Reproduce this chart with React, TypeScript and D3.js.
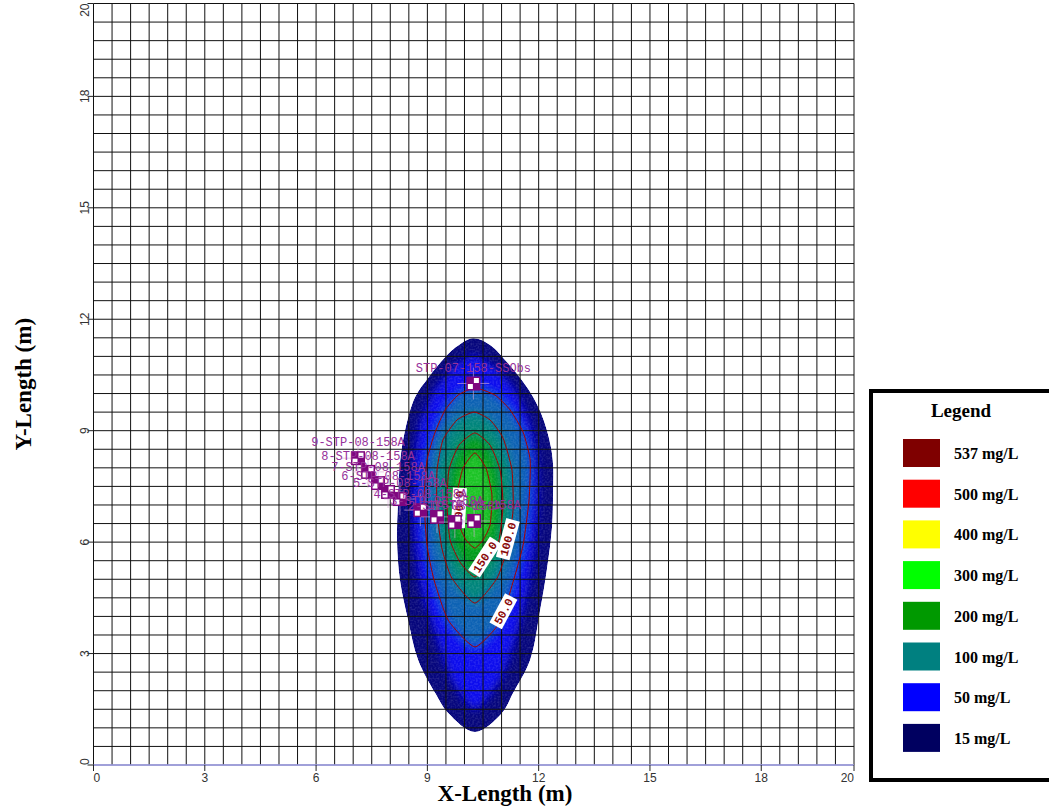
import React from "react";
import * as d3 from "d3";

// Model extent (m) and grid spacing
const AXIS_MAX = 20.5;
const GRID_STEP = 0.5;
const X_TICKS = [0, 3, 6, 9, 12, 15, 18, AXIS_MAX];
const Y_TICKS = [0, 3, 6, 9, 12, 15, 18, AXIS_MAX];

type Pt = [number, number];

// Outer limit of the plume (lowest concentration band), x/y in metres
const plumeEdge: Pt[] = [
  [10.23, 11.49], [10.69, 11.31], [11.17, 10.82], [11.55, 10.36], [11.85, 9.91],
  [12.06, 9.48], [12.22, 9.02], [12.33, 8.56], [12.39, 8.08], [12.39, 7.4],
  [12.36, 6.41], [12.22, 5.25], [12.04, 4.17], [11.77, 2.83], [11.31, 1.94],
  [11.01, 1.4], [10.28, 0.89], [9.56, 1.4], [9.21, 1.94], [8.75, 2.83],
  [8.48, 3.9], [8.26, 4.98], [8.18, 6.06], [8.21, 7.13], [8.26, 8.13],
  [8.4, 9.02], [8.67, 9.91], [9.02, 10.42], [9.34, 10.82], [9.77, 11.25],
];

// Inner blue zone
const blueZone: Pt[] = [
  [10.26, 11.04], [10.96, 10.58], [11.44, 9.96], [11.77, 9.15], [11.95, 8.21],
  [11.98, 7.13], [11.9, 6.06], [11.71, 4.71], [11.36, 3.36], [10.96, 2.29],
  [10.28, 1.48], [9.66, 2.29], [9.28, 3.36], [8.85, 4.71], [8.66, 6.06],
  [8.61, 7.13], [8.66, 8.21], [8.8, 9.15], [9.12, 9.96], [9.61, 10.63],
];

// Iso-concentration contours (mg/L)
const contour50: Pt[] = [
  [10.28, 10.15], [10.82, 9.96], [11.23, 9.56], [11.58, 8.96], [11.77, 8.21],
  [11.74, 7.13], [11.58, 5.92], [11.31, 4.93], [10.96, 3.85], [10.28, 3.18],
  [9.56, 3.9], [9.18, 4.98], [8.99, 5.92], [8.91, 7.13], [8.99, 8.21],
  [9.21, 8.96], [9.48, 9.56], [9.83, 9.96],
];
const contour100: Pt[] = [
  [10.26, 9.5], [10.69, 9.29], [11.04, 8.8], [11.28, 7.94], [11.31, 6.86],
  [11.15, 5.84], [10.88, 5.03], [10.28, 4.36], [9.66, 5.03], [9.39, 5.84],
  [9.26, 6.86], [9.26, 7.94], [9.42, 8.75], [9.8, 9.29],
];
const contour150: Pt[] = [
  [10.28, 8.94], [10.69, 8.61], [10.96, 7.94], [11.04, 7.0], [10.93, 6.06],
  [10.66, 5.46], [10.28, 5.06], [9.88, 5.46], [9.61, 6.06], [9.53, 7.0],
  [9.58, 7.94], [9.85, 8.61],
];
const contour200: Pt[] = [
  [10.28, 8.4], [10.58, 7.99], [10.74, 7.27], [10.69, 6.46], [10.5, 6.06],
  [10.28, 5.84], [10.04, 6.06], [9.86, 6.46], [9.8, 7.27], [9.96, 7.99],
];

const contourLines: Pt[][] = [contour50, contour100, contour150, contour200];

// Colour fills, outermost first
const bandShapes: Pt[][] = [blueZone, contour50, contour100, contour150, contour200];
const bandColors = ["#0808ee", "#0c62b4", "#00857c", "#039a1c", "#1fc426"];
const EDGE_COLOR = "#06067c";

// Contour value labels
const contourLabelText = ["150.0", "100.0", "50.0", "200.0"];
const contourLabelX = [10.55, 11.17, 11.05, 9.85];
const contourLabelY = [5.6, 6.08, 4.14, 6.92];
const contourLabelAngle = [-57, -75, -62, -87];

// Observation wells
const wellNames = [
  "STP-07-158-SSObs",
  "9-STP-08-158A", "8-STP-08-158A", "7-STP-08-158A", "6-STP-08-158A",
  "5-STP-08-158A", "4-STP-08-158A", "3-STP-08-158A", "2-STP-08-158A", "1-STP-08-158A",
];
const wellX = [10.24, 7.13, 7.4, 7.67, 7.94, 8.26, 8.81, 9.26, 9.74, 10.26];
const wellY = [10.27, 8.26, 7.89, 7.59, 7.35, 7.16, 6.86, 6.68, 6.54, 6.57];

// Legend
const legendLabels = ["537 mg/L", "500 mg/L", "400 mg/L", "300 mg/L", "200 mg/L", "100 mg/L", "50 mg/L", "15 mg/L"];
const legendColors = ["#7f0000", "#ff0000", "#ffff00", "#00ff00", "#009900", "#008080", "#0000ff", "#000060"];

const W = 1049;
const H = 809;
const PLOT = { left: 93.5, right: 854, top: 3.5, bottom: 765 };

export default function App() {
  const xs = d3.scaleLinear().domain([0, AXIS_MAX]).range([PLOT.left, PLOT.right]);
  const ys = d3.scaleLinear().domain([0, AXIS_MAX]).range([PLOT.bottom, PLOT.top]);

  const smooth = d3
    .line<Pt>()
    .x((d) => xs(d[0]))
    .y((d) => ys(d[1]))
    .curve(d3.curveCatmullRomClosed.alpha(0.5));

  // contours keep their pointed ends
  const sharp = d3
    .line<Pt>()
    .x((d) => xs(d[0]))
    .y((d) => ys(d[1]))
    .curve(d3.curveCardinalClosed.tension(0.45));

  const gridVals = d3.range(0, AXIS_MAX + 1e-6, GRID_STEP);
  const fmt = (v: number) => String(Math.floor(v));
  const serif = "'Liberation Serif', 'Times New Roman', serif";
  const sans = "'Liberation Sans', Arial, sans-serif";
  const mono = "'Liberation Mono', 'DejaVu Sans Mono', monospace";

  return (
    <svg
      width={W}
      height={H}
      style={{ position: "absolute", left: 0, top: 0, background: "#fff" }}
    >
      <defs>
        <clipPath id="plumeClip">
          <path d={smooth(plumeEdge) || ""} />
        </clipPath>
        <filter id="soft" x="-50%" y="-50%" width="200%" height="200%">
          <feGaussianBlur stdDeviation="4.5" />
        </filter>
        <filter id="grain" x="0" y="0" width="100%" height="100%">
          <feTurbulence type="fractalNoise" baseFrequency="0.55" numOctaves="1" seed="7" result="n" />
          <feColorMatrix
            in="n"
            type="matrix"
            values="0 0 0 0 1  0 0 0 0 1  0 0 0 0 1  0 0 0 0.9 -0.35"
          />
        </filter>
      </defs>

      {/* plume fill */}
      <g clipPath="url(#plumeClip)">
        <path d={smooth(plumeEdge) || ""} fill={EDGE_COLOR} />
        <g filter="url(#soft)">
          {bandShapes.map((s, i) => (
            <path key={i} d={sharp(s) || ""} fill={bandColors[i]} />
          ))}
        </g>
        <rect
          x={xs(8)}
          y={ys(11.6)}
          width={xs(12.6) - xs(8)}
          height={ys(0.7) - ys(11.6)}
          filter="url(#grain)"
          opacity={0.35}
        />
      </g>

      {/* grid */}
      <g stroke="#111" strokeWidth={1}>
        {gridVals.map((v, i) => (
          <line key={"gx" + i} x1={xs(v)} x2={xs(v)} y1={PLOT.top} y2={PLOT.bottom} />
        ))}
        {gridVals.map((v, i) => (
          <line key={"gy" + i} x1={PLOT.left} x2={PLOT.right} y1={ys(v)} y2={ys(v)} />
        ))}
      </g>
      <line x1={PLOT.left} x2={PLOT.right} y1={PLOT.bottom} y2={PLOT.bottom} stroke="#a8a8f4" strokeWidth={1.5} />

      {/* contour lines */}
      <g fill="none" stroke="#a80000" strokeWidth={1}>
        {contourLines.map((c, i) => (
          <path key={i} d={sharp(c) || ""} />
        ))}
      </g>

      {/* contour labels */}
      {contourLabelText.map((t, i) => {
        const w = t.length * 6.8 + 6;
        return (
          <g key={t} transform={`translate(${xs(contourLabelX[i])},${ys(contourLabelY[i])}) rotate(${contourLabelAngle[i]})`}>
            <rect x={-w / 2} y={-7} width={w} height={14} fill="#fff" />
            <text
              x={0}
              y={4}
              textAnchor="middle"
              fontFamily={mono}
              fontSize={11.5}
              fontWeight="bold"
              fill="#8a0a0a"
            >
              {t}
            </text>
          </g>
        );
      })}

      {/* wells */}
      {wellNames.map((n, i) => {
        const cx = xs(wellX[i]);
        const cy = ys(wellY[i]);
        return (
          <g key={n}>
            <line x1={cx - 16} x2={cx + 16} y1={cy} y2={cy} stroke="#d8a8d8" strokeWidth={1} opacity={0.6} />
            <line x1={cx} x2={cx} y1={cy - 16} y2={cy + 16} stroke="#d8a8d8" strokeWidth={1} opacity={0.6} />
            <rect x={cx - 7} y={cy - 7} width={14} height={14} fill="#7e067e" />
            <rect x={cx + 0.5} y={cy - 5.5} width={5} height={5} fill="#fff" />
            <rect x={cx - 5.5} y={cy + 0.5} width={5} height={5} fill="#fff" />
          </g>
        );
      })}
      {wellNames.map((n, i) => (
        <text
          key={"l" + n}
          x={xs(wellX[i])}
          y={ys(wellY[i]) - 12}
          textAnchor="middle"
          fontFamily={mono}
          fontSize={12}
          fill="#96309a"
        >
          {n}
        </text>
      ))}

      {/* x axis ticks */}
      {X_TICKS.map((v, i) => (
        <g key={"xt" + i}>
          <line x1={xs(v)} x2={xs(v)} y1={PLOT.bottom} y2={PLOT.bottom + 6} stroke="#222" />
          <text
            x={xs(v)}
            y={PLOT.bottom + 17}
            textAnchor={i === 0 ? "start" : i === X_TICKS.length - 1 ? "end" : "middle"}
            fontFamily={sans}
            fontSize={12}
            fill="#333"
          >
            {fmt(v)}
          </text>
        </g>
      ))}

      {/* y axis ticks */}
      {Y_TICKS.map((v, i) => (
        <g key={"yt" + i}>
          <line x1={PLOT.left - 6} x2={PLOT.left} y1={ys(v)} y2={ys(v)} stroke="#222" />
          <text
            transform={`translate(${PLOT.left - 5},${ys(v)}) rotate(-90)`}
            textAnchor={i === 0 ? "start" : i === Y_TICKS.length - 1 ? "end" : "middle"}
            fontFamily={sans}
            fontSize={12}
            fill="#333"
          >
            {fmt(v)}
          </text>
        </g>
      ))}

      {/* axis titles */}
      <text x={505} y={801} textAnchor="middle" fontFamily={serif} fontWeight="bold" fontSize={23}>
        X-Length (m)
      </text>
      <text
        transform={`translate(31,${(PLOT.top + PLOT.bottom) / 2}) rotate(-90)`}
        textAnchor="middle"
        fontFamily={serif}
        fontWeight="bold"
        fontSize={23}
      >
        Y-Length (m)
      </text>

      {/* legend */}
      <g>
        <rect x={871} y={391} width={200} height={389} fill="#fff" stroke="#000" strokeWidth={4} />
        <text x={961} y={417} textAnchor="middle" fontFamily={serif} fontWeight="bold" fontSize={19}>
          Legend
        </text>
        {legendLabels.map((l, i) => (
          <g key={l} transform={`translate(903,${439 + i * 40.7})`}>
            <rect width={37} height={28} fill={legendColors[i]} />
            <text x={51} y={20} fontFamily={serif} fontWeight="bold" fontSize={16}>
              {l}
            </text>
          </g>
        ))}
      </g>
    </svg>
  );
}
